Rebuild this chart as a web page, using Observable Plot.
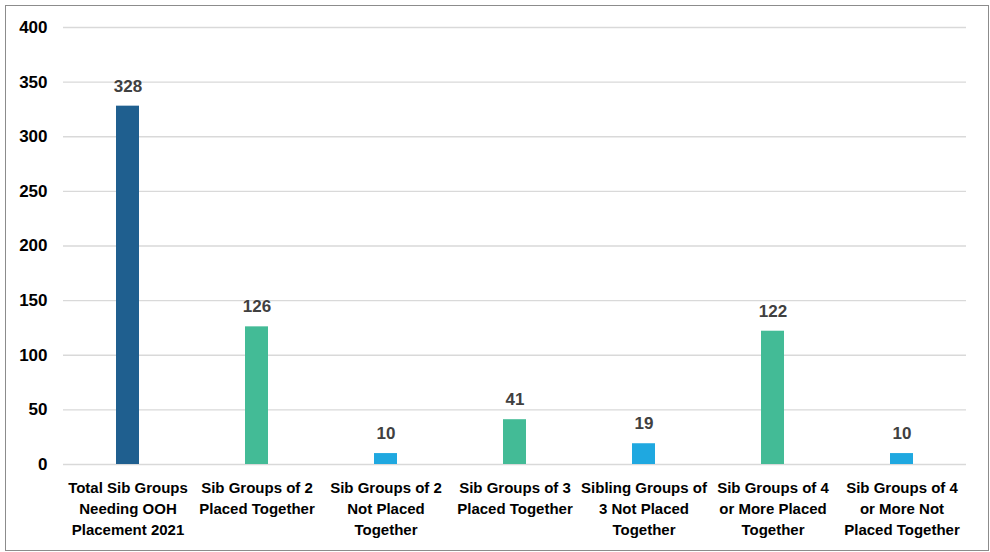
<!DOCTYPE html>
<html>
<head>
<meta charset="utf-8">
<script src="https://cdn.jsdelivr.net/npm/d3@7"></script>
<script src="https://cdn.jsdelivr.net/npm/@observablehq/plot@0.6"></script>
<style>
  html, body { margin: 0; padding: 0; background: #fff; }
  #wrap { position: relative; width: 990px; height: 552px; }
  #border { position: absolute; left: 5px; top: 5px; width: 982px; height: 544px; border: 1px solid #8c8c8c; pointer-events: none; }
  svg text { font-weight: bold; }
</style>
</head>
<body>
<div id="wrap"><div id="border"></div></div>
<script>
const categories = [
  "Total Sib Groups\nNeeding OOH\nPlacement 2021",
  "Sib Groups of 2\nPlaced Together",
  "Sib Groups of 2\nNot Placed\nTogether",
  "Sib Groups of 3\nPlaced Together",
  "Sibling Groups of\n3 Not Placed\nTogether",
  "Sib Groups of 4\nor More Placed\nTogether",
  "Sib Groups of 4\nor More Not\nPlaced Together"
];
const values = [328, 126, 10, 41, 19, 122, 10];
const barColors = ["#1F5F8F", "#43BB96", "#1FA8E0", "#43BB96", "#1FA8E0", "#43BB96", "#1FA8E0"];
const yTicks = [0, 50, 100, 150, 200, 250, 300, 350, 400];

const data = categories.map((c, i) => ({category: c, value: values[i], color: barColors[i]}));

const chart = Plot.plot({
  width: 990,
  height: 552,
  marginLeft: 63,
  marginRight: 24,
  marginTop: 27,
  marginBottom: 88,
  style: {fontFamily: "'Liberation Sans', Arial, sans-serif", background: "transparent"},
  x: {domain: categories, paddingInner: 0.82, paddingOuter: 0.41, label: null},
  y: {domain: [0, 400], label: null},
  marks: [
    Plot.gridY(yTicks, {stroke: "#d9d9d9", strokeOpacity: 1, strokeWidth: 1.4}),
    Plot.barY(data, {x: "category", y: "value", fill: "color"}),
    Plot.text(data, {x: "category", y: "value", text: d => String(d.value), dy: -20, fill: "#404040", fontSize: 17, fontWeight: "bold"}),
    Plot.axisY({ticks: yTicks, tickSize: 0, tickPadding: 16, fontSize: 17, fill: "#000", label: null}),
    Plot.axisX({tickSize: 0, tickPadding: 14, fontSize: 15, fill: "#000", lineHeight: 1.4, label: null, tickFormat: d => d})
  ]
});
document.getElementById("wrap").prepend(chart);
</script>
</body>
</html>
